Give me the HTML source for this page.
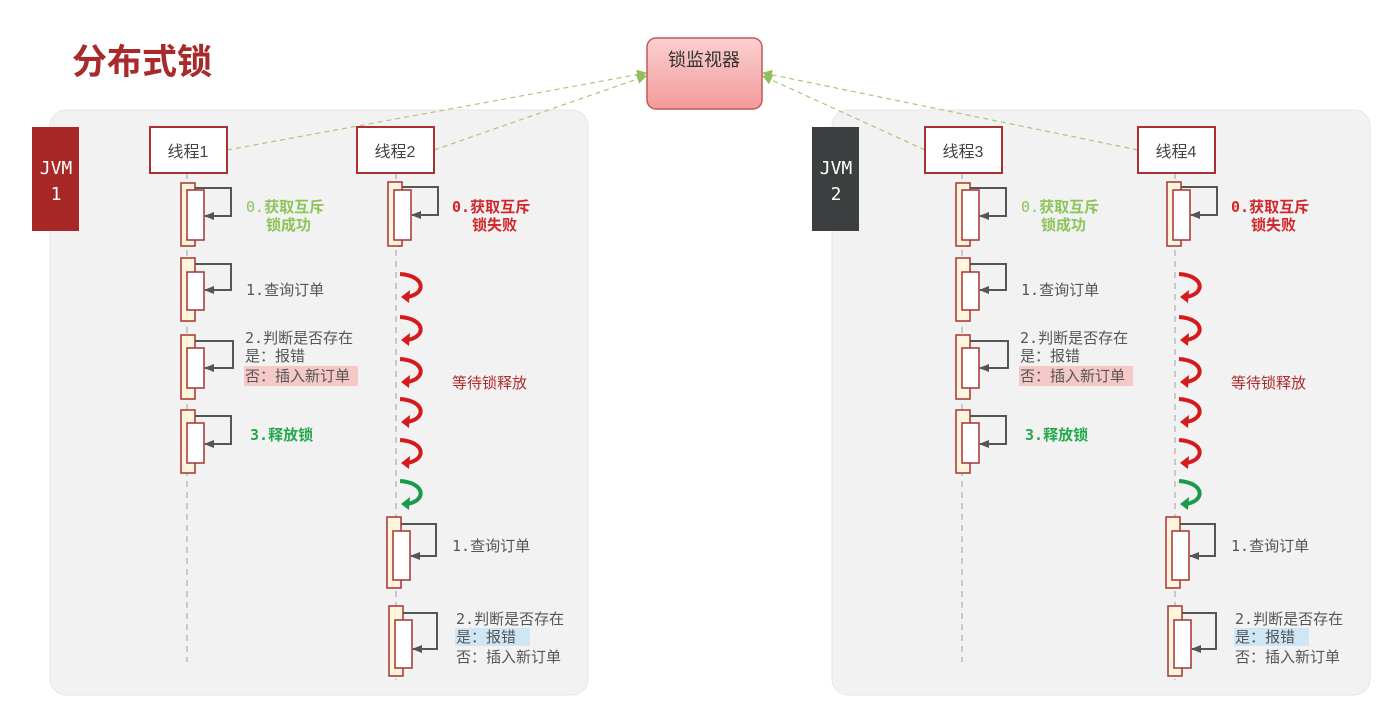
<!DOCTYPE html>
<html><head><meta charset="utf-8">
<style>
html,body{margin:0;padding:0;background:#fff;}
svg{display:block;}
text{font-family:"DejaVu Sans Mono","Noto Sans CJK SC",monospace;font-size:15px;fill:#555;}
.cn{font-family:"Liberation Sans","Noto Sans CJK SC",sans-serif;}
</style></head><body>
<svg width="1393" height="703" viewBox="0 0 1393 703" xmlns="http://www.w3.org/2000/svg">
<defs>
<marker id="ga" markerWidth="10" markerHeight="10" refX="9" refY="5" orient="auto" markerUnits="userSpaceOnUse"><path d="M0,0 L10,5 L0,10 z" fill="#8fbf5a"/></marker>
<marker id="ka" markerWidth="10" markerHeight="10" refX="9" refY="5" orient="auto" markerUnits="userSpaceOnUse"><path d="M0,1 L10,5 L0,9 z" fill="#555"/></marker>
<linearGradient id="pk" x1="0" y1="0" x2="0" y2="1"><stop offset="0" stop-color="#fbd0d0"/><stop offset="1" stop-color="#f39a9a"/></linearGradient>
<g id="red"><path d="M400,274 C427,276 426,295 406,297" fill="none" stroke="#d41a1a" stroke-width="4"/><path d="M401,297 L410,290 L409,303 z" fill="#d41a1a"/></g>
<g id="grn"><path d="M400,481 C427,483 426,502 406,504" fill="none" stroke="#1a9a4a" stroke-width="4"/><path d="M401,504 L410,497 L409,510 z" fill="#1a9a4a"/></g>

<g id="colA">
<line x1="187" y1="173" x2="187" y2="662" stroke="#c8c8c8" stroke-width="2" stroke-dasharray="6,5"/>
<g stroke="#a83232" stroke-width="1.5">
<rect x="181" y="183" width="14" height="63" fill="#fdf5dc"/><rect x="187" y="190" width="17" height="50" fill="#fff"/>
<rect x="181" y="258" width="14" height="63" fill="#fdf5dc"/><rect x="187" y="272" width="17" height="38" fill="#fff"/>
<rect x="181" y="335" width="14" height="64" fill="#fdf5dc"/><rect x="187" y="348" width="17" height="40" fill="#fff"/>
<rect x="181" y="410" width="14" height="63" fill="#fdf5dc"/><rect x="187" y="423" width="17" height="40" fill="#fff"/>
</g>
<g fill="none" stroke="#555" stroke-width="2" marker-end="url(#ka)">
<path d="M195,188 H231 V216 H205"/>
<path d="M195,264 H231 V290 H205"/>
<path d="M195,341 H233 V368 H205"/>
<path d="M195,416 H231 V444 H205"/>
</g>
<text x="246" y="212" style="fill:#8cc45a">0.<tspan class="cn" font-weight="bold">获取互斥</tspan></text>
<text x="266" y="230" class="cn" style="fill:#8cc45a" font-weight="bold">锁成功</text>
<text x="246" y="295">1.<tspan class="cn">查询订单</tspan></text>
<text x="245" y="343">2.<tspan class="cn">判断是否存在</tspan></text>
<text x="245" y="361" class="cn">是：报错</text>
<rect x="244" y="366" width="114" height="20" fill="#f6c9c9"/>
<text x="245" y="381" class="cn">否：插入新订单</text>
<text x="250" y="440" style="fill:#22a84a" font-weight="bold">3.<tspan class="cn">释放锁</tspan></text>
</g>

<g id="colB">
<line x1="396" y1="173" x2="396" y2="680" stroke="#c8c8c8" stroke-width="2" stroke-dasharray="6,5"/>
<g stroke="#a83232" stroke-width="1.5">
<rect x="388" y="182" width="14" height="64" fill="#fdf5dc"/><rect x="394" y="190" width="17" height="50" fill="#fff"/>
<rect x="387" y="517" width="14" height="71" fill="#fdf5dc"/><rect x="393" y="531" width="17" height="49" fill="#fff"/>
<rect x="389" y="606" width="14" height="70" fill="#fdf5dc"/><rect x="395" y="620" width="17" height="48" fill="#fff"/>
</g>
<g fill="none" stroke="#555" stroke-width="2" marker-end="url(#ka)">
<path d="M402,187 H438 V215 H412"/>
<path d="M401,524 H436 V556 H411"/>
<path d="M403,613 H437 V649 H413"/>
</g>
<text x="452" y="212" style="fill:#d0262a" font-weight="bold">0.<tspan class="cn">获取互斥</tspan></text>
<text x="472" y="230" class="cn" style="fill:#d0262a" font-weight="bold">锁失败</text>
<use href="#red"/><use href="#red" y="43"/><use href="#red" y="85"/><use href="#red" y="125"/><use href="#red" y="166"/>
<use href="#grn"/>
<text x="452" y="388" class="cn" style="fill:#b02a2a">等待锁释放</text>
<text x="452" y="551">1.<tspan class="cn">查询订单</tspan></text>
<text x="456" y="624">2.<tspan class="cn">判断是否存在</tspan></text>
<rect x="455" y="628" width="75" height="18" fill="#cfe6f4"/>
<text x="456" y="642" class="cn">是：报错</text>
<text x="456" y="662" class="cn">否：插入新订单</text>
</g>
</defs>

<text x="72" y="74" class="cn" style="font-size:35px;fill:#a82a2a" font-weight="bold">分布式锁</text>

<rect x="50" y="110" width="538" height="585" rx="16" fill="#f2f2f2" stroke="#e6e6e6"/>
<rect x="832" y="110" width="538" height="585" rx="16" fill="#f2f2f2" stroke="#e6e6e6"/>

<rect x="32" y="127" width="47" height="104" fill="#a82828"/>
<text x="56" y="174" text-anchor="middle" style="fill:#fff;font-size:18px">JVM</text>
<text x="56" y="200" text-anchor="middle" style="fill:#fff;font-size:18px">1</text>
<rect x="812" y="127" width="47" height="104" fill="#3c3f3f"/>
<text x="836" y="174" text-anchor="middle" style="fill:#fff;font-size:18px">JVM</text>
<text x="836" y="200" text-anchor="middle" style="fill:#fff;font-size:18px">2</text>

<use href="#colA"/><use href="#colB"/>
<use href="#colA" x="775"/><use href="#colB" x="779"/>

<g stroke="#a9c77a" stroke-width="1.2" stroke-dasharray="5,4" fill="none" marker-end="url(#ga)">
<path d="M227,150 L646,73"/>
<path d="M434,150 L646,76"/>
<path d="M925,150 L763,76"/>
<path d="M1138,150 L763,73"/>
</g>

<g fill="#fff" stroke="#a83232" stroke-width="2">
<rect x="150" y="127" width="77" height="46"/>
<rect x="357" y="127" width="77" height="46"/>
<rect x="925" y="127" width="77" height="46"/>
<rect x="1138" y="127" width="77" height="46"/>
</g>
<text x="188" y="157" text-anchor="middle" class="cn" style="font-size:16px;fill:#444">线程1</text>
<text x="395" y="157" text-anchor="middle" class="cn" style="font-size:16px;fill:#444">线程2</text>
<text x="963" y="157" text-anchor="middle" class="cn" style="font-size:16px;fill:#444">线程3</text>
<text x="1176" y="157" text-anchor="middle" class="cn" style="font-size:16px;fill:#444">线程4</text>

<rect x="647" y="38" width="115" height="71" rx="9" fill="url(#pk)" stroke="#c05a5a" stroke-width="1.5"/>
<text x="704" y="66" text-anchor="middle" class="cn" style="font-size:18px;fill:#333">锁监视器</text>
</svg>
</body></html>
